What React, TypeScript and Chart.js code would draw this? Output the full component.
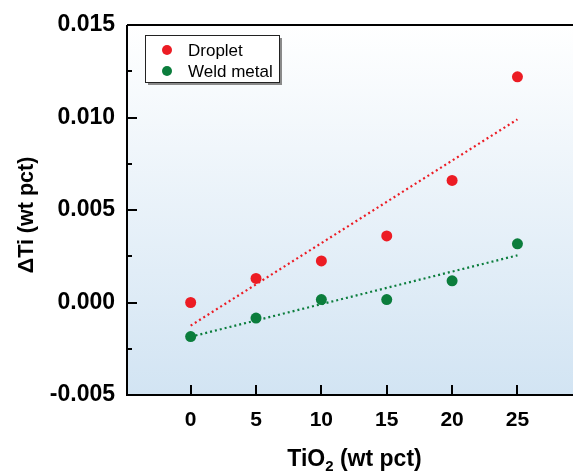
import React, { useEffect, useRef } from "react";
import { Chart, registerables } from "chart.js";

Chart.register(...registerables);

// ---- data ----
const tio2 = [0, 5, 10, 15, 20, 25];
const droplet = [0.0, 0.0013, 0.00225, 0.0036, 0.0066, 0.0122];
const weldMetal = [-0.00184, -0.00084, 0.00016, 0.00016, 0.00117, 0.00317];
const fitX = [0, 25];
const dropletFit = [-0.00125, 0.0099];
const weldFit = [-0.00185, 0.00255];
const xTicks = [0, 5, 10, 15, 20, 25];
const yTicks = [-0.005, 0, 0.005, 0.01, 0.015];
const yMinorTicks = [-0.0025, 0.0025, 0.0075, 0.0125];
const seriesLabels = ["Droplet", "Weld metal"];
const xTitleMain = "TiO";
const xTitleSub = "2";
const xTitleRest = " (wt pct)";
const yTitle = "\u0394Ti (wt pct)";

const RED = "#ec1c24";
const GREEN = "#0b7d3c";
const FONT = "'Liberation Sans', Arial, sans-serif";

const decor = {
  id: "decor",
  beforeDraw(chart: any) {
    const { ctx, chartArea: a } = chart;
    const g = ctx.createLinearGradient(0, a.top, 0, a.bottom);
    g.addColorStop(0, "#ffffff");
    g.addColorStop(1, "#d2e4f3");
    ctx.save();
    ctx.fillStyle = g;
    ctx.fillRect(a.left, a.top, a.right - a.left, a.bottom - a.top);
    ctx.restore();
  },
  beforeDatasetsDraw(chart: any) {
    const { ctx, chartArea: a, scales } = chart;
    const xs = scales.x;
    const ys = scales.y;
    ctx.save();
    ctx.strokeStyle = "#000";
    ctx.lineWidth = 2;
    ctx.beginPath();
    ctx.moveTo(a.left, a.top);
    ctx.lineTo(a.right, a.top);
    ctx.moveTo(a.left, a.top);
    ctx.lineTo(a.left, a.bottom);
    ctx.lineTo(a.right, a.bottom);
    for (const v of yTicks) {
      const y = Math.round(ys.getPixelForValue(v));
      ctx.moveTo(a.left, y);
      ctx.lineTo(a.left + 10, y);
    }
    for (const v of yMinorTicks) {
      const y = Math.round(ys.getPixelForValue(v));
      ctx.moveTo(a.left, y);
      ctx.lineTo(a.left + 5, y);
    }
    for (const v of xTicks) {
      const x = Math.round(xs.getPixelForValue(v));
      ctx.moveTo(x, a.bottom);
      ctx.lineTo(x, a.bottom - 10);
    }
    ctx.stroke();
    ctx.restore();
  },
  afterDraw(chart: any) {
    const { ctx } = chart;
    ctx.save();
    // legend
    const bx = 145, by = 35, bw = 134, bh = 47;
    ctx.fillStyle = "#8a8a8a";
    ctx.fillRect(bx + 3, by + 3, bw, bh);
    ctx.fillStyle = "#ffffff";
    ctx.fillRect(bx, by, bw, bh);
    ctx.strokeStyle = "#222";
    ctx.lineWidth = 1;
    ctx.strokeRect(bx + 0.5, by + 0.5, bw, bh);
    const colors = [RED, GREEN];
    const rows = [50, 71];
    ctx.font = `17px ${FONT}`;
    ctx.textBaseline = "middle";
    ctx.textAlign = "left";
    for (let i = 0; i < 2; i++) {
      ctx.fillStyle = colors[i];
      ctx.beginPath();
      ctx.arc(167, rows[i], 5, 0, Math.PI * 2);
      ctx.fill();
      ctx.fillStyle = "#000";
      ctx.fillText(seriesLabels[i], 188, rows[i] + 1);
    }
    // x title
    ctx.fillStyle = "#000";
    ctx.textBaseline = "alphabetic";
    const big = `bold 23px ${FONT}`;
    const small = `bold 15px ${FONT}`;
    ctx.font = big;
    const w1 = ctx.measureText(xTitleMain).width;
    const w3 = ctx.measureText(xTitleRest).width;
    ctx.font = small;
    const w2 = ctx.measureText(xTitleSub).width;
    const total = w1 + w2 + w3;
    const x0 = 354.5 - total / 2;
    ctx.font = big;
    ctx.fillText(xTitleMain, x0, 466);
    ctx.font = small;
    ctx.fillText(xTitleSub, x0 + w1, 471);
    ctx.font = big;
    ctx.fillText(xTitleRest, x0 + w1 + w2, 466);
    // y title
    ctx.translate(27, 215);
    ctx.rotate(-Math.PI / 2);
    ctx.font = `bold 21.5px ${FONT}`;
    ctx.textAlign = "center";
    ctx.textBaseline = "middle";
    ctx.fillText(yTitle, 0, 0);
    ctx.restore();
  },
};

export default function App() {
  const ref = useRef<HTMLCanvasElement | null>(null);
  useEffect(() => {
    document.body.style.margin = "0";
    const canvas = ref.current!;
    const chart = new Chart(canvas, {
      type: "scatter",
      data: {
        datasets: [
          {
            label: seriesLabels[0],
            data: tio2.map((x, i) => ({ x, y: droplet[i] })),
            backgroundColor: RED,
            borderColor: RED,
            pointRadius: 5.5,
            pointHoverRadius: 5.5,
            borderWidth: 0,
            order: 1,
          },
          {
            label: seriesLabels[1],
            data: tio2.map((x, i) => ({ x, y: weldMetal[i] })),
            backgroundColor: GREEN,
            borderColor: GREEN,
            pointRadius: 5.5,
            pointHoverRadius: 5.5,
            borderWidth: 0,
            order: 1,
          },
          {
            type: "line",
            label: "Droplet fit",
            data: fitX.map((x, i) => ({ x, y: dropletFit[i] })),
            borderColor: RED,
            borderWidth: 2.2,
            borderDash: [2, 3],
            pointRadius: 0,
            fill: false,
            order: 2,
          } as any,
          {
            type: "line",
            label: "Weld fit",
            data: fitX.map((x, i) => ({ x, y: weldFit[i] })),
            borderColor: GREEN,
            borderWidth: 2.2,
            borderDash: [2, 3],
            pointRadius: 0,
            fill: false,
            order: 2,
          } as any,
        ],
      },
      plugins: [decor],
      options: {
        animation: false,
        responsive: false,
        maintainAspectRatio: false,
        layout: { autoPadding: false, padding: { top: 25, right: 0, left: 0, bottom: 0 } },
        plugins: { legend: { display: false }, tooltip: { enabled: false } },
        scales: {
          x: {
            type: "linear",
            min: -4.87,
            max: 29.25,
            grid: { display: false, drawTicks: false },
            border: { display: false },
            afterBuildTicks: (s: any) => {
              s.ticks = xTicks.map((v) => ({ value: v }));
            },
            afterFit: (s: any) => {
              s.height = 77;
              s.paddingLeft = 0;
              s.paddingRight = 0;
            },
            ticks: {
              padding: 13,
              color: "#000",
              maxRotation: 0,
              font: { family: FONT, size: 21, weight: "bold" },
              callback: (v: any) => String(v),
            },
          },
          y: {
            type: "linear",
            min: -0.005,
            max: 0.015,
            grid: { display: false, drawTicks: false },
            border: { display: false },
            afterBuildTicks: (s: any) => {
              s.ticks = yTicks.map((v) => ({ value: v }));
            },
            afterFit: (s: any) => {
              s.width = 127;
              s.paddingTop = 0;
              s.paddingBottom = 0;
            },
            ticks: {
              padding: 12,
              color: "#000",
              font: { family: FONT, size: 23, weight: "bold" },
              callback: (v: any) => Number(v).toFixed(3),
            },
          },
        },
      },
    });
    return () => chart.destroy();
  }, []);
  return (
    <div style={{ position: "fixed", left: 0, top: 0, width: 573, height: 472, background: "#fff" }}>
      <canvas ref={ref} width={573} height={472} style={{ width: 573, height: 472 }} />
    </div>
  );
}
